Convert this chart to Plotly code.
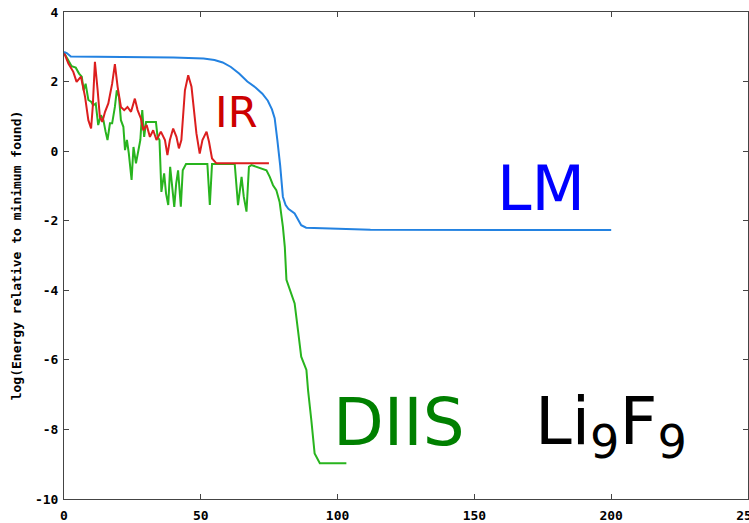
import plotly.graph_objects as go

# LM series (blue)
lm_x = [0, 1, 2.5, 20, 40, 51, 55, 58, 61, 64, 67, 70, 72.5, 74.5, 76, 77, 77.6, 78, 79, 80, 81, 82, 84.3, 86.7, 88.5, 92, 99, 112, 200]
lm_y = [2.85, 2.82, 2.72, 2.71, 2.69, 2.66, 2.62, 2.55, 2.42, 2.23, 2.0, 1.83, 1.65, 1.45, 1.2, 0.95, 0.6, 0.3, -0.4, -1.31, -1.55, -1.66, -1.79, -2.13, -2.2, -2.21, -2.24, -2.26, -2.27]

# IR series (red)
ir_x = [0, 1.6, 3.4, 4.6, 6.2, 7.7, 8.9, 9.9, 10.5, 11.3, 12.3, 13.1, 14.0, 15.0, 16.2, 17.6, 18.6, 19.6, 20.8, 22.0,
        23.2, 24.5, 25.9, 26.9, 28.1, 29.0, 30.2, 31.4, 32.6, 33.8, 35.4, 36.9, 37.8, 38.7, 39.9, 41.1, 42.0, 42.9,
        44.2, 45.4, 46.6, 47.6, 48.4, 49.6, 50.6, 52.1, 53.0, 54.1, 55.7, 74.9]
ir_y = [2.83, 2.52, 2.28, 1.99, 2.14, 1.56, 0.89, 0.65, 1.27, 2.57, 1.75, 0.99, 0.84, 1.13, 1.37, 1.94, 2.50, 1.85, 1.27, 1.18,
        1.27, 1.13, 1.51, 1.18, 0.94, 0.60, 0.75, 0.41, 0.60, 0.32, 0.56, 0.32, -0.11, 0.32, 0.65, 0.41, 0.08, 0.32,
        1.75, 2.18, 1.85, 1.18, 0.51, -0.07, 0.32, 0.56, 0.27, -0.21, -0.35, -0.35]

# DIIS series (green)
diis_x = [0, 1.6, 2.8, 4.3, 5.5, 6.5, 7.2, 7.9, 8.9, 9.9, 10.7, 11.6, 12.5, 13.5, 14.4, 15.2, 15.9, 16.8, 17.6, 18.6,
          19.3, 20.1, 20.8, 21.7, 22.3, 23.0, 23.7, 24.7, 25.4, 26.3, 27.1, 27.9, 28.6, 29.3, 30.0, 33.6, 34.2, 34.9,
          35.6, 36.6, 37.3, 38.1, 38.8, 39.5, 40.3, 41.0, 41.7, 42.7, 43.4, 44.6, 52.4, 53.3, 54.1, 62.4, 63.6, 64.9,
          65.7, 66.7, 67.6, 68.5, 72.8, 74.0, 75.2, 76.4, 77.6, 78.8, 80.0, 80.7, 81.3, 82.5, 84.3, 85.5, 86.7, 88.6,
          89.2, 90.4, 91.6, 93.5, 103.2]
diis_y = [2.83, 2.61, 2.44, 2.40, 2.23, 2.14, 1.75, 1.94, 1.47, 1.42, 1.32, 1.37, 0.75, 1.03, 0.89, 0.56, 0.32, 0.80, 0.80, 1.27,
          1.75, 1.56, 0.89, 0.70, 0.03, 0.32, -0.07, -0.83, 0.12, -0.35, 0.03, 0.32, 1.18, 0.41, 0.84, 0.84, 0.41, 0.32,
          -1.17, -0.64, -1.22, -1.55, -0.45, -1.02, -1.60, -0.93, -0.55, -1.60, -0.55, -0.37, -0.37, -1.55, -0.37, -0.37, -1.55, -0.74,
          -1.31, -1.74, -0.45, -0.40, -0.50, -0.55, -0.74, -0.98, -1.12, -1.46, -2.17, -2.75, -3.70, -3.99, -4.38, -5.14, -5.91, -6.29,
          -6.87, -7.73, -8.69, -8.97, -8.97]

x_ticks = [0, 50, 100, 150, 200, 250]
y_ticks = [-10, -8, -6, -4, -2, 0, 2, 4]
y_title = "log(Energy relative to minimum found)"

fig = go.Figure()
fig.add_trace(go.Scatter(x=diis_x, y=diis_y, mode="lines", line=dict(color="rgb(40,180,30)", width=2), name="DIIS"))
fig.add_trace(go.Scatter(x=ir_x, y=ir_y, mode="lines", line=dict(color="rgb(220,30,30)", width=2), name="IR"))
fig.add_trace(go.Scatter(x=lm_x, y=lm_y, mode="lines", line=dict(color="rgb(35,130,225)", width=2), name="LM"))

tickfont = dict(family="DejaVu Sans Mono", size=13, color="black")
axis_common = dict(showgrid=False, zeroline=False, showline=True, linecolor="#444", linewidth=1,
                   mirror="allticks", ticks="inside", ticklen=5, tickcolor="#444", tickfont=tickfont,
                   automargin=False)

fig.update_xaxes(range=[0, 250], tickvals=x_ticks, ticktext=[f"<b>{v}</b>" for v in x_ticks],
                 ticklabeloverflow="allow", ticklabelstandoff=4, **axis_common)
fig.update_yaxes(range=[-10, 4], tickvals=y_ticks, ticktext=[f"<b>{v}</b>" for v in y_ticks],
                 title=dict(text=f"<b>{y_title}</b>", font=dict(family="DejaVu Sans Mono", size=13, color="black"), standoff=10),
                 ticklabelstandoff=2, **axis_common)

font_text = "DejaVu Sans"
fig.add_annotation(x=63.0, y=1.12, text="IR", showarrow=False, font=dict(family=font_text, size=43, color="rgb(205,0,0)"))
fig.add_annotation(x=174.5, y=-1.08, text="LM", showarrow=False, font=dict(family=font_text, size=62, color="rgb(0,0,255)"))
fig.add_annotation(x=122.6, y=-7.8, text="DIIS", showarrow=False, font=dict(family=font_text, size=66, color="rgb(0,128,0)"))
fig.add_annotation(x=200, y=-7.9, text="Li<sub>9</sub>F<sub>9</sub>", showarrow=False,
                   font=dict(family=font_text, size=66, color="black"))

fig.update_layout(width=749, height=523, margin=dict(l=64, r=1, t=12, b=24),
                  plot_bgcolor="white", paper_bgcolor="white", showlegend=False)

fig.write_html("out.html", config={"displayModeBar": False},
               post_script="document.body.style.margin='0';document.body.style.overflow='hidden';")
